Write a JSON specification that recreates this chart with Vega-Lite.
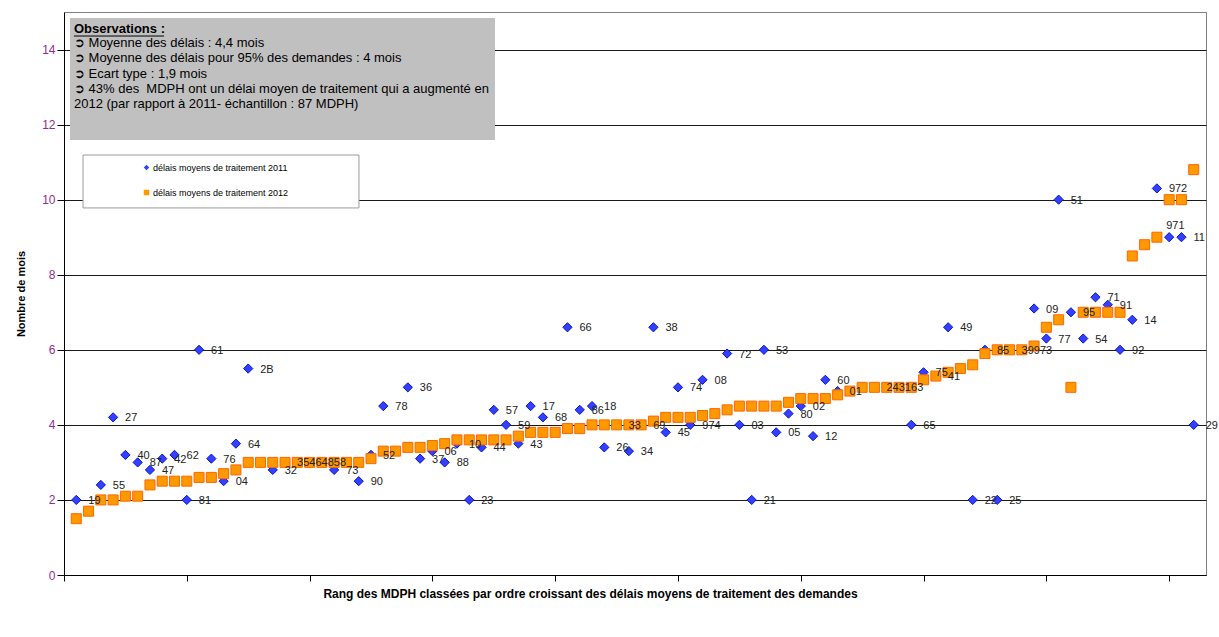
{
  "$schema": "https://vega.github.io/schema/vega-lite/v6.json",
  "width": 1142,
  "height": 563,
  "autosize": {"type": "none"},
  "padding": {"left": 64, "top": 12, "right": 13, "bottom": 62},
  "background": "white",
  "config": {
    "font": "Liberation Sans",
    "view": {"stroke": "#808080", "strokeWidth": 1},
    "axis": {"domainColor": "#000000", "tickColor": "#000000", "gridColor": "#1a1a1a", "gridWidth": 1, "gridOpacity": 1},
    "legend": {
      "orient": "none", "legendX": 78, "legendY": 151, "padding": 0,
      "labelFontSize": 9, "labelFont": "Liberation Sans", "labelColor": "#000000",
      "symbolSize": 30, "rowPadding": 15, "labelOffset": 2, "symbolStrokeWidth": 0
    }
  },
  "data": {"values": [
    {"rang":1,"annee":"2012","delai":1.5},{"rang":2,"annee":"2012","delai":1.7},{"rang":3,"annee":"2012","delai":2.0},{"rang":4,"annee":"2012","delai":2.0},
    {"rang":5,"annee":"2012","delai":2.1},{"rang":6,"annee":"2012","delai":2.1},{"rang":7,"annee":"2012","delai":2.4},{"rang":8,"annee":"2012","delai":2.5},
    {"rang":9,"annee":"2012","delai":2.5},{"rang":10,"annee":"2012","delai":2.5},{"rang":11,"annee":"2012","delai":2.6},{"rang":12,"annee":"2012","delai":2.6},
    {"rang":13,"annee":"2012","delai":2.7},{"rang":14,"annee":"2012","delai":2.8},{"rang":15,"annee":"2012","delai":3.0},{"rang":16,"annee":"2012","delai":3.0},
    {"rang":17,"annee":"2012","delai":3.0},{"rang":18,"annee":"2012","delai":3.0},{"rang":19,"annee":"2012","delai":3.0},{"rang":20,"annee":"2012","delai":3.0},
    {"rang":21,"annee":"2012","delai":3.0},{"rang":22,"annee":"2012","delai":3.0},{"rang":23,"annee":"2012","delai":3.0},{"rang":24,"annee":"2012","delai":3.0},
    {"rang":25,"annee":"2012","delai":3.1},{"rang":26,"annee":"2012","delai":3.3},{"rang":27,"annee":"2012","delai":3.3},{"rang":28,"annee":"2012","delai":3.4},
    {"rang":29,"annee":"2012","delai":3.4},{"rang":30,"annee":"2012","delai":3.45},{"rang":31,"annee":"2012","delai":3.5},{"rang":32,"annee":"2012","delai":3.6},
    {"rang":33,"annee":"2012","delai":3.6},{"rang":34,"annee":"2012","delai":3.6},{"rang":35,"annee":"2012","delai":3.6},{"rang":36,"annee":"2012","delai":3.6},
    {"rang":37,"annee":"2012","delai":3.7},{"rang":38,"annee":"2012","delai":3.8},{"rang":39,"annee":"2012","delai":3.8},{"rang":40,"annee":"2012","delai":3.8},
    {"rang":41,"annee":"2012","delai":3.9},{"rang":42,"annee":"2012","delai":3.9},{"rang":43,"annee":"2012","delai":4.0},{"rang":44,"annee":"2012","delai":4.0},
    {"rang":45,"annee":"2012","delai":4.0},{"rang":46,"annee":"2012","delai":4.0},{"rang":47,"annee":"2012","delai":4.0},{"rang":48,"annee":"2012","delai":4.1},
    {"rang":49,"annee":"2012","delai":4.2},{"rang":50,"annee":"2012","delai":4.2},{"rang":51,"annee":"2012","delai":4.2},{"rang":52,"annee":"2012","delai":4.25},
    {"rang":53,"annee":"2012","delai":4.3},{"rang":54,"annee":"2012","delai":4.4},{"rang":55,"annee":"2012","delai":4.5},{"rang":56,"annee":"2012","delai":4.5},
    {"rang":57,"annee":"2012","delai":4.5},{"rang":58,"annee":"2012","delai":4.5},{"rang":59,"annee":"2012","delai":4.6},{"rang":60,"annee":"2012","delai":4.7},
    {"rang":61,"annee":"2012","delai":4.7},{"rang":62,"annee":"2012","delai":4.7},{"rang":63,"annee":"2012","delai":4.8},{"rang":64,"annee":"2012","delai":4.9},
    {"rang":65,"annee":"2012","delai":5.0},{"rang":66,"annee":"2012","delai":5.0},{"rang":67,"annee":"2012","delai":5.0},{"rang":68,"annee":"2012","delai":5.0},
    {"rang":69,"annee":"2012","delai":5.0},{"rang":70,"annee":"2012","delai":5.2},{"rang":71,"annee":"2012","delai":5.3},{"rang":72,"annee":"2012","delai":5.4},
    {"rang":73,"annee":"2012","delai":5.5},{"rang":74,"annee":"2012","delai":5.6},{"rang":75,"annee":"2012","delai":5.9},{"rang":76,"annee":"2012","delai":6.0},
    {"rang":77,"annee":"2012","delai":6.0},{"rang":78,"annee":"2012","delai":6.0},{"rang":79,"annee":"2012","delai":6.1},{"rang":80,"annee":"2012","delai":6.6},
    {"rang":81,"annee":"2012","delai":6.8},{"rang":82,"annee":"2012","delai":5.0},{"rang":83,"annee":"2012","delai":7.0},{"rang":84,"annee":"2012","delai":7.0},
    {"rang":85,"annee":"2012","delai":7.0},{"rang":86,"annee":"2012","delai":7.0},{"rang":87,"annee":"2012","delai":8.5},{"rang":88,"annee":"2012","delai":8.8},
    {"rang":89,"annee":"2012","delai":9.0},{"rang":90,"annee":"2012","delai":10.0},{"rang":91,"annee":"2012","delai":10.0},{"rang":92,"annee":"2012","delai":10.8},
    {"rang":1,"annee":"2011","delai":2.0,"dep":"19"},{"rang":3,"annee":"2011","delai":2.4,"dep":"55"},{"rang":4,"annee":"2011","delai":4.2,"dep":"27"},
    {"rang":5,"annee":"2011","delai":3.2,"dep":"40"},{"rang":6,"annee":"2011","delai":3.0,"dep":"87"},{"rang":7,"annee":"2011","delai":2.8,"dep":"47"},
    {"rang":8,"annee":"2011","delai":3.1,"dep":"42"},{"rang":9,"annee":"2011","delai":3.2,"dep":"62"},{"rang":10,"annee":"2011","delai":2.0,"dep":"81"},
    {"rang":11,"annee":"2011","delai":6.0,"dep":"61"},{"rang":12,"annee":"2011","delai":3.1,"dep":"76"},{"rang":13,"annee":"2011","delai":2.5,"dep":"04"},
    {"rang":14,"annee":"2011","delai":3.5,"dep":"64"},{"rang":15,"annee":"2011","delai":5.5,"dep":"2B"},{"rang":17,"annee":"2011","delai":2.8,"dep":"32"},
    {"rang":18,"annee":"2011","delai":3.0,"dep":"35"},{"rang":19,"annee":"2011","delai":3.0,"dep":"46"},{"rang":20,"annee":"2011","delai":3.0,"dep":"48"},
    {"rang":21,"annee":"2011","delai":3.0,"dep":"58"},{"rang":22,"annee":"2011","delai":2.8,"dep":"73"},{"rang":24,"annee":"2011","delai":2.5,"dep":"90"},
    {"rang":25,"annee":"2011","delai":3.2,"dep":"52"},{"rang":26,"annee":"2011","delai":4.5,"dep":"78"},{"rang":28,"annee":"2011","delai":5.0,"dep":"36"},
    {"rang":29,"annee":"2011","delai":3.1,"dep":"37"},{"rang":30,"annee":"2011","delai":3.3,"dep":"06"},{"rang":31,"annee":"2011","delai":3.0,"dep":"88"},
    {"rang":32,"annee":"2011","delai":3.5,"dep":"10"},{"rang":33,"annee":"2011","delai":2.0,"dep":"23"},{"rang":34,"annee":"2011","delai":3.4,"dep":"44"},
    {"rang":35,"annee":"2011","delai":4.4,"dep":"57"},{"rang":36,"annee":"2011","delai":4.0,"dep":"59"},{"rang":37,"annee":"2011","delai":3.5,"dep":"43"},
    {"rang":38,"annee":"2011","delai":4.5,"dep":"17"},{"rang":39,"annee":"2011","delai":4.2,"dep":"68"},{"rang":41,"annee":"2011","delai":6.6,"dep":"66"},
    {"rang":42,"annee":"2011","delai":4.4,"dep":"86"},{"rang":43,"annee":"2011","delai":4.5,"dep":"18"},{"rang":44,"annee":"2011","delai":3.4,"dep":"26"},
    {"rang":45,"annee":"2011","delai":4.0,"dep":"33"},{"rang":46,"annee":"2011","delai":3.3,"dep":"34"},{"rang":47,"annee":"2011","delai":4.0,"dep":"69"},
    {"rang":48,"annee":"2011","delai":6.6,"dep":"38"},{"rang":49,"annee":"2011","delai":3.8,"dep":"45"},{"rang":50,"annee":"2011","delai":5.0,"dep":"74"},
    {"rang":51,"annee":"2011","delai":4.0,"dep":"974"},{"rang":52,"annee":"2011","delai":5.2,"dep":"08"},{"rang":54,"annee":"2011","delai":5.9,"dep":"72"},
    {"rang":55,"annee":"2011","delai":4.0,"dep":"03"},{"rang":56,"annee":"2011","delai":2.0,"dep":"21"},{"rang":57,"annee":"2011","delai":6.0,"dep":"53"},
    {"rang":58,"annee":"2011","delai":3.8,"dep":"05"},{"rang":59,"annee":"2011","delai":4.3,"dep":"80"},{"rang":60,"annee":"2011","delai":4.5,"dep":"02"},
    {"rang":61,"annee":"2011","delai":3.7,"dep":"12"},{"rang":62,"annee":"2011","delai":5.2,"dep":"60"},{"rang":63,"annee":"2011","delai":4.9,"dep":"01"},
    {"rang":66,"annee":"2011","delai":5.0,"dep":"24"},{"rang":67,"annee":"2011","delai":5.0,"dep":"31"},{"rang":68,"annee":"2011","delai":5.0,"dep":"63"},
    {"rang":69,"annee":"2011","delai":4.0,"dep":"65"},{"rang":70,"annee":"2011","delai":5.4,"dep":"75"},{"rang":71,"annee":"2011","delai":5.3,"dep":"41"},
    {"rang":72,"annee":"2011","delai":6.6,"dep":"49"},{"rang":74,"annee":"2011","delai":2.0,"dep":"22"},{"rang":75,"annee":"2011","delai":6.0,"dep":"85"},
    {"rang":76,"annee":"2011","delai":2.0,"dep":"25"},{"rang":77,"annee":"2011","delai":6.0,"dep":"39"},{"rang":78,"annee":"2011","delai":6.0,"dep":"973"},
    {"rang":79,"annee":"2011","delai":7.1,"dep":"09"},{"rang":80,"annee":"2011","delai":6.3,"dep":"77"},{"rang":81,"annee":"2011","delai":10.0,"dep":"51"},
    {"rang":82,"annee":"2011","delai":7.0,"dep":"95"},{"rang":83,"annee":"2011","delai":6.3,"dep":"54"},{"rang":84,"annee":"2011","delai":7.4,"dep":"71"},
    {"rang":85,"annee":"2011","delai":7.2,"dep":"91"},{"rang":86,"annee":"2011","delai":6.0,"dep":"92"},{"rang":87,"annee":"2011","delai":6.8,"dep":"14"},
    {"rang":89,"annee":"2011","delai":10.3,"dep":"972"},{"rang":90,"annee":"2011","delai":9.0,"dep":"971"},{"rang":91,"annee":"2011","delai":9.0,"dep":"11"},
    {"rang":92,"annee":"2011","delai":4.0,"dep":"29"}
  ]},
  "layer": [
    {
      "data": {"values": [{}]},
      "mark": {"type": "rect", "fill": "#C0C0C0"},
      "encoding": {
        "x": {"datum": 0.49, "type": "quantitative", "scale": {"domain": [0, 93], "nice": false, "zero": false}, "title": "Rang des MDPH classées par ordre croissant des délais moyens de traitement des demandes"},
        "x2": {"datum": 35.1},
        "y": {"datum": 14.84, "type": "quantitative", "scale": {"domain": [0, 15], "nice": false}, "title": "Nombre de mois"},
        "y2": {"datum": 11.59}
      }
    },
    {
      "data": {"values": [{}]},
      "mark": {"type": "rect", "fill": "#FFFFFF", "stroke": "#9a9a9a", "strokeWidth": 1},
      "encoding": {
        "x": {"datum": 1.55, "type": "quantitative", "scale": {"domain": [0, 93], "nice": false, "zero": false}, "title": "Rang des MDPH classées par ordre croissant des délais moyens de traitement des demandes"},
        "x2": {"datum": 24.02},
        "y": {"datum": 11.19, "type": "quantitative", "scale": {"domain": [0, 15], "nice": false}, "title": "Nombre de mois"},
        "y2": {"datum": 9.78}
      }
    },
    {
      "transform": [{"filter": "datum.annee == '2011'"}],
      "mark": {"type": "point", "filled": true, "size": 85, "stroke": "#0a14c8", "strokeWidth": 1, "opacity": 1},
      "encoding": {
        "x": {"field": "rang", "type": "quantitative", "scale": {"domain": [0, 93], "nice": false, "zero": false},
              "title": "Rang des MDPH classées par ordre croissant des délais moyens de traitement des demandes",
              "axis": {"values": [0, 10, 20, 30, 40, 50, 60, 70, 80, 90], "labels": false, "grid": false, "tickSize": 6,
                       "titleFontWeight": "bold", "titleFontSize": 12, "titleColor": "#000000", "titlePadding": 7, "titleX": 526}},
        "y": {"field": "delai", "type": "quantitative", "scale": {"domain": [0, 15], "nice": false},
              "title": "Nombre de mois",
              "axis": {"values": [0, 2, 4, 6, 8, 10, 12, 14], "grid": true, "tickSize": 7, "labelColor": "#912C91", "labelFontSize": 12,
                       "labelPadding": 2, "titleFontWeight": "bold", "titleFontSize": 11, "titleColor": "#000000", "titleX": -38}},
        "color": {"field": "annee", "type": "nominal", "scale": {"domain": ["2011", "2012"], "range": ["#3340FF", "#FF9900"]},
                  "title": null, "legend": {"labelExpr": "'délais moyens de traitement ' + datum.label"}},
        "shape": {"field": "annee", "type": "nominal", "scale": {"domain": ["2011", "2012"], "range": ["diamond", "square"]},
                  "title": null, "legend": {"labelExpr": "'délais moyens de traitement ' + datum.label"}}
      }
    },
    {
      "transform": [{"filter": "datum.annee == '2012'"}],
      "mark": {"type": "point", "filled": true, "size": 100, "stroke": "#FF6600", "strokeWidth": 1, "opacity": 1},
      "encoding": {
        "x": {"field": "rang", "type": "quantitative", "scale": {"domain": [0, 93], "nice": false, "zero": false}, "title": "Rang des MDPH classées par ordre croissant des délais moyens de traitement des demandes"},
        "y": {"field": "delai", "type": "quantitative", "scale": {"domain": [0, 15], "nice": false}, "title": "Nombre de mois"},
        "color": {"field": "annee", "type": "nominal", "scale": {"domain": ["2011", "2012"], "range": ["#3340FF", "#FF9900"]},
                  "title": null, "legend": {"labelExpr": "'délais moyens de traitement ' + datum.label"}},
        "shape": {"field": "annee", "type": "nominal", "scale": {"domain": ["2011", "2012"], "range": ["diamond", "square"]},
                  "title": null, "legend": {"labelExpr": "'délais moyens de traitement ' + datum.label"}}
      }
    },
    {
      "transform": [{"filter": "datum.annee == '2011' && datum.dep != '971'"}],
      "mark": {"type": "text", "align": "left", "baseline": "middle", "dx": 12, "dy": 1, "fontSize": 11, "fill": "#222222"},
      "encoding": {
        "x": {"field": "rang", "type": "quantitative", "scale": {"domain": [0, 93], "nice": false, "zero": false}, "title": "Rang des MDPH classées par ordre croissant des délais moyens de traitement des demandes"},
        "y": {"field": "delai", "type": "quantitative", "scale": {"domain": [0, 15], "nice": false}, "title": "Nombre de mois"},
        "text": {"field": "dep", "type": "nominal"}
      }
    },
    {
      "transform": [{"filter": "datum.dep == '971'"}],
      "mark": {"type": "text", "align": "left", "baseline": "middle", "dx": -3, "dy": -11, "fontSize": 11, "fill": "#222222"},
      "encoding": {
        "x": {"field": "rang", "type": "quantitative", "scale": {"domain": [0, 93], "nice": false, "zero": false}, "title": "Rang des MDPH classées par ordre croissant des délais moyens de traitement des demandes"},
        "y": {"field": "delai", "type": "quantitative", "scale": {"domain": [0, 15], "nice": false}, "title": "Nombre de mois"},
        "text": {"field": "dep", "type": "nominal"}
      }
    },
    {
      "data": {"values": [{}]},
      "mark": {"type": "text", "text": "Observations :", "align": "left", "baseline": "middle", "fontSize": 13, "fontWeight": "bold", "fill": "#000000"},
      "encoding": {
        "x": {"datum": 0.81, "type": "quantitative", "scale": {"domain": [0, 93], "nice": false, "zero": false}, "title": "Rang des MDPH classées par ordre croissant des délais moyens de traitement des demandes"},
        "y": {"datum": 14.54, "type": "quantitative", "scale": {"domain": [0, 15], "nice": false}, "title": "Nombre de mois"}
      }
    },
    {
      "data": {"values": [{}]},
      "mark": {"type": "rule", "stroke": "#000000", "strokeWidth": 1},
      "encoding": {
        "x": {"datum": 0.81, "type": "quantitative", "scale": {"domain": [0, 93], "nice": false, "zero": false}, "title": "Rang des MDPH classées par ordre croissant des délais moyens de traitement des demandes"},
        "x2": {"datum": 8.15},
        "y": {"datum": 14.36, "type": "quantitative", "scale": {"domain": [0, 15], "nice": false}, "title": "Nombre de mois"}
      }
    },
    {
      "data": {"values": [{}]},
      "mark": {"type": "text", "align": "left", "baseline": "top", "fontSize": 13, "lineHeight": 15.2, "fill": "#000000",
               "text": ["➲ Moyenne des délais : 4,4 mois", "➲ Moyenne des délais pour 95% des demandes : 4 mois", "➲ Ecart type : 1,9 mois", "➲ 43% des \u00a0MDPH ont un délai moyen de traitement qui a augmenté en", "2012 (par rapport à 2011- échantillon : 87 MDPH)"]},
      "encoding": {
        "x": {"datum": 0.81, "type": "quantitative", "scale": {"domain": [0, 93], "nice": false, "zero": false}, "title": "Rang des MDPH classées par ordre croissant des délais moyens de traitement des demandes"},
        "y": {"datum": 14.33, "type": "quantitative", "scale": {"domain": [0, 15], "nice": false}, "title": "Nombre de mois"}
      }
    }
  ]
}
